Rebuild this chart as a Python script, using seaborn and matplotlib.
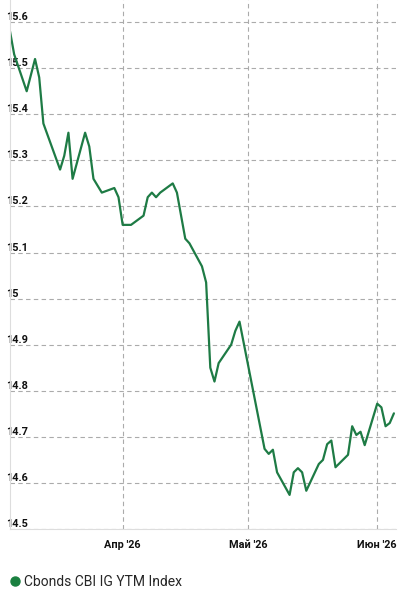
import pandas as pd
import matplotlib
matplotlib.use('Agg')
import matplotlib.pyplot as plt
import seaborn as sns

# values (yield, %)
dates = ['2026-03-05', '2026-03-06', '2026-03-09', '2026-03-11', '2026-03-12', '2026-03-13',
         '2026-03-17', '2026-03-18', '2026-03-19', '2026-03-20', '2026-03-23', '2026-03-24',
         '2026-03-25', '2026-03-27', '2026-03-30', '2026-03-31', '2026-04-01', '2026-04-03',
         '2026-04-06', '2026-04-07', '2026-04-08', '2026-04-09', '2026-04-10', '2026-04-13',
         '2026-04-14', '2026-04-16', '2026-04-17', '2026-04-20', '2026-04-21', '2026-04-22',
         '2026-04-23', '2026-04-24', '2026-04-27', '2026-04-28', '2026-04-29', '2026-05-05',
         '2026-05-06', '2026-05-07', '2026-05-08', '2026-05-11', '2026-05-12', '2026-05-13',
         '2026-05-14', '2026-05-15', '2026-05-18', '2026-05-19', '2026-05-20', '2026-05-21',
         '2026-05-22', '2026-05-25', '2026-05-26', '2026-05-27', '2026-05-28', '2026-05-29',
         '2026-06-01', '2026-06-02', '2026-06-03', '2026-06-04', '2026-06-05']
ytm = [15.58, 15.53, 15.45, 15.52, 15.48, 15.38,
       15.28, 15.31, 15.36, 15.26, 15.36, 15.33,
       15.26, 15.23, 15.24, 15.22, 15.16, 15.16,
       15.18, 15.22, 15.23, 15.22, 15.23, 15.25,
       15.23, 15.13, 15.12, 15.07, 15.035, 14.85,
       14.82, 14.86, 14.90, 14.93, 14.95, 14.674,
       14.663, 14.672, 14.623, 14.574, 14.623, 14.632,
       14.623, 14.583, 14.641, 14.65, 14.684, 14.692,
       14.634, 14.661, 14.723, 14.704, 14.711, 14.682,
       14.772, 14.764, 14.723, 14.73, 14.751]
series_name = 'Cbonds CBI IG YTM Index'
month_ticks = ['2026-04-01', '2026-05-01', '2026-06-01']
month_labels = ["Апр '26", "Май '26", "Июн '26"]
y_ticks = [14.5, 14.6, 14.7, 14.8, 14.9, 15.0, 15.1, 15.2, 15.3, 15.4, 15.5, 15.6]
y_labels = ['14.5', '14.6', '14.7', '14.8', '14.9', '15', '15.1', '15.2', '15.3', '15.4', '15.5', '15.6']

df = pd.DataFrame({'date': pd.to_datetime(dates), 'ytm': ytm})

sns.set_style('white')
plt.rcParams['font.family'] = ['Roboto', 'DejaVu Sans']

fig = plt.figure(figsize=(4.04, 5.95), dpi=100)
ax = fig.add_axes([10 / 404, 1 - 529 / 595, 386 / 404, 529 / 595])

green = '#1e7b45'
sns.lineplot(data=df, x='date', y='ytm', ax=ax, color=green, linewidth=1.6, legend=False)

ax.set_xlim(pd.Timestamp('2026-03-05'), pd.Timestamp('2026-06-05 12:00'))
ax.set_ylim(14.5, 15.648)

ax.set_xticks(pd.to_datetime(month_ticks))
ax.set_xticklabels(month_labels, fontsize=7.8, fontweight='bold', color='#111111')
ax.set_yticks(y_ticks)
ax.set_yticklabels(y_labels, fontsize=7.8, fontweight='bold', color='#111111')
for lab in ax.get_yticklabels():
    lab.set_horizontalalignment('left')
    lab.set_verticalalignment('bottom')
ax.tick_params(axis='y', length=0, pad=3)
ax.tick_params(axis='x', length=0, pad=8)
ax.set_xlabel('')
ax.set_ylabel('')

ax.grid(True, color='#ababab', linestyle=(0, (4, 3)), linewidth=0.8)
ax.set_axisbelow(True)
for side in ['top', 'right']:
    ax.spines[side].set_visible(False)
for side in ['left', 'bottom']:
    ax.spines[side].set_color('#dddddd')
    ax.spines[side].set_linewidth(0.8)

handles = [plt.Line2D([], [], marker='o', linestyle='', markersize=6.5, color='#1a8040')]
fig.legend(handles, [series_name], loc='lower left', bbox_to_anchor=(-0.005, -0.006),
           frameon=False, fontsize=10, handletextpad=0.1, handlelength=1.1,
           borderaxespad=0.3)

fig.savefig('out.png', dpi=100)
